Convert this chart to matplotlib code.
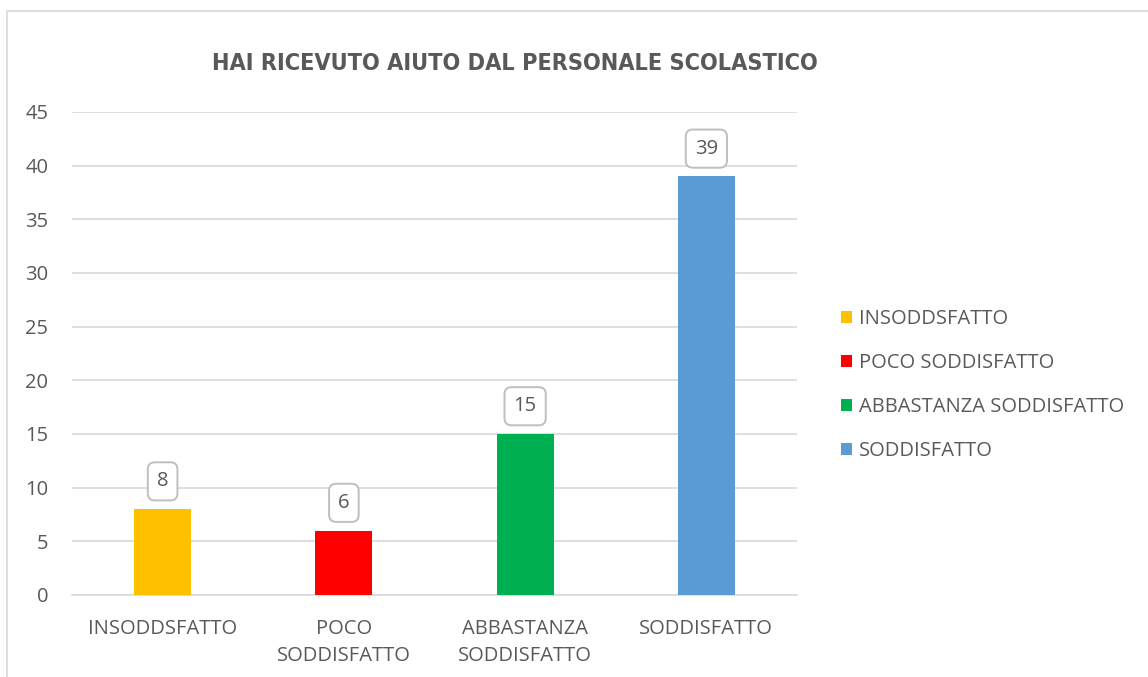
import matplotlib.pyplot as plt
from matplotlib.patches import Rectangle, Patch

categories = ["INSODDSFATTO", "POCO\nSODDISFATTO", "ABBASTANZA\nSODDISFATTO", "SODDISFATTO"]
legend_labels = ["INSODDSFATTO", "POCO SODDISFATTO", "ABBASTANZA SODDISFATTO", "SODDISFATTO"]
values = [8, 6, 15, 39]
colors = ["#FFC000", "#FF0000", "#00B050", "#5B9BD5"]

text_color = "#595959"
grid_color = "#D9D9D9"
plt.rcParams['font.family'] = ['Open Sans', 'DejaVu Sans']
fs = 14.5

fig = plt.figure(figsize=(11.48, 6.77), dpi=100)
fig.patches.append(Rectangle((7 / 1148, -0.05), 1.2, 1.05 - 11 / 677, transform=fig.transFigure,
                             fill=False, edgecolor=grid_color, linewidth=1.2))

ax = fig.add_axes([72 / 1148, 1 - 595 / 677, (797 - 72) / 1148, (595 - 112) / 677])
x = range(len(values))
ax.bar(x, values, width=0.315, color=colors, zorder=3)

ax.set_ylim(0, 45)
ax.set_xlim(-0.5, 3.5)
ax.set_yticks(range(0, 46, 5))
ax.set_xticks(list(x))
ax.set_xticklabels(categories, linespacing=1.5)
ax.tick_params(axis='both', length=0, colors=text_color, labelsize=fs)
ax.tick_params(axis='x', pad=17)
ax.tick_params(axis='y', pad=17)
ax.yaxis.grid(True, color=grid_color, linewidth=1.2, zorder=0)
for s in ["top", "right", "left"]:
    ax.spines[s].set_visible(False)
ax.spines["bottom"].set_color(grid_color)
ax.spines["bottom"].set_linewidth(1.2)

for xi, v in zip(x, values):
    ax.annotate(str(v), (xi, v), xytext=(0, 20), textcoords="offset points",
                ha="center", va="center", fontsize=fs, color=text_color, zorder=4,
                bbox=dict(boxstyle="round,pad=0.45,rounding_size=0.35", fc="white",
                          ec="#BFBFBF", lw=1.4))

fig.text(515 / 1148, 1 - 63 / 677, "HAI RICEVUTO AIUTO DAL PERSONALE SCOLASTICO",
         ha="center", va="center", fontsize=16.8, fontweight="bold", color=text_color,
         family="DejaVu Sans", fontstretch="condensed")

handles = [Patch(facecolor=c, edgecolor="none") for c in colors]
leg = fig.legend(handles, legend_labels, loc="center left",
                 bbox_to_anchor=(823 / 1148, 1 - 385 / 677), frameon=False,
                 fontsize=fs, handlelength=0.55, handleheight=0.55,
                 handletextpad=0.35, labelspacing=1.2)
for t in leg.get_texts():
    t.set_color(text_color)

fig.savefig("out.png", dpi=100)
